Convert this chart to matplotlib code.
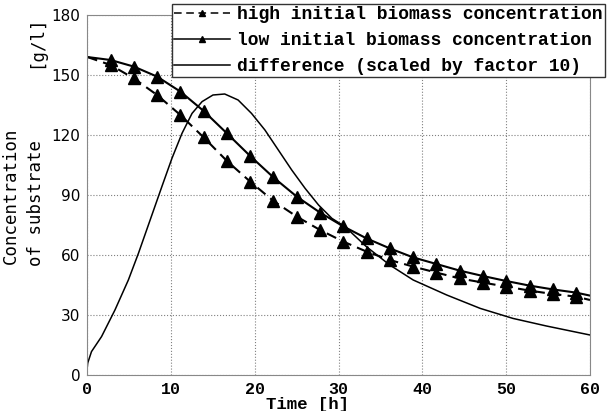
import matplotlib
matplotlib.use("Agg")
import matplotlib.pyplot as plt

# marker sample times [h]
t_markers = [0, 2.78, 5.56, 8.33, 11.11, 13.89, 16.67, 19.44, 22.22, 25.0, 27.78,
             30.56, 33.33, 36.11, 38.89, 41.67, 44.44, 47.22, 50.0, 52.78, 55.56,
             58.33, 60]

high_biomass = [159, 155, 148.3, 140, 130, 118.8, 107, 96.7, 87, 79.2, 72.5,
                66.7, 61.7, 57.5, 54.2, 51.2, 48.3, 46.2, 44.2, 42.2, 40.5,
                39.2, 37.5]

low_biomass = [159, 157.5, 154.2, 149.2, 141.7, 132, 120.8, 109.5, 98.8, 89.2, 81.2,
               74.3, 68.3, 63.3, 58.8, 55.5, 52.2, 49.5, 47, 44.7, 42.8,
               41.2, 39.7]

# difference curve (scaled by 10)
t_diff = [0, 0.05, 0.5, 1.7, 3.3, 4.9, 6.1, 7.5, 8.9, 10.1, 11.3, 12.5, 13.7, 15.0,
          16.4, 18.0, 19.6, 21.2, 22.8, 24.4, 26.0, 27.6, 29.2, 30.75, 33.3, 36.1,
          38.9, 42.9, 46.9, 50.8, 54.8, 60]
diff_scaled = [4, 6, 11.7, 19.2, 32.5, 47.5, 60.8, 77.5, 94.2, 108.3, 120.8, 130.8,
               136.7, 140, 140.5, 137.5, 130.8, 122.5, 112.5, 102.5, 93.3, 85, 78.3,
               74.2, 64.2, 55, 47.5, 40, 33.3, 28.3, 24.5, 20]

x_ticks = [0, 10, 20, 30, 40, 50, 60]
y_ticks = [0, 30, 60, 90, 120, 150, 180]

W, H = 607, 411
fig = plt.figure(figsize=(W / 100, H / 100), dpi=100)
ax = fig.add_axes([87.3 / W, 1 - 375 / H, (590 - 87.3) / W, (375 - 15) / H])

mono_bold = {"family": "Liberation Mono", "weight": "bold"}

l1, = ax.plot(t_markers, high_biomass, color="black", lw=1.5, linestyle=(0, (5, 3)),
              marker="^", ms=8, markevery=list(range(1, len(t_markers) - 1)),
              label="high initial biomass concentration")
l2, = ax.plot(t_markers, low_biomass, color="black", lw=1.5,
              marker="^", ms=8, markevery=list(range(1, len(t_markers) - 1)),
              label="low initial biomass concentration")
l3, = ax.plot(t_diff, diff_scaled, color="black", lw=1.1,
              label="difference (scaled by factor 10)")

ax.set_xlim(0, 60)
ax.set_ylim(0, 180)
ax.set_xticks(x_ticks)
ax.set_yticks(y_ticks)
ax.tick_params(length=0, pad=5)
for lab in ax.get_xticklabels():
    lab.set_fontproperties(mono_bold)
    lab.set_fontsize(12)
for lab in ax.get_yticklabels():
    lab.set_family("DejaVu Sans")
    lab.set_fontsize(11)
ax.grid(True, color="gray", linestyle=":", linewidth=0.8)
for sp in ax.spines.values():
    sp.set_color("#888888")

leg = fig.legend(handles=[l1, l2, l3], loc="upper left",
                 bbox_to_anchor=(172.3 / W, 1 - 4 / H), numpoints=1,
                 prop={"family": "Liberation Mono", "weight": "bold", "size": 13},
                 borderpad=0.12, handlelength=3.1, handletextpad=0.37,
                 labelspacing=0.5, borderaxespad=0, fancybox=False, framealpha=1)
leg.get_frame().set_edgecolor("#333333")
leg.get_frame().set_linewidth(1.0)
for h in leg.legend_handles:
    h.set_markersize(4.5)
    h.set_linewidth(1.1)

fig.text(308 / W, 1 - 404 / H, "Time [h]", ha="center", va="center",
         fontsize=12.5, **mono_bold)
fig.text(11 / W, 1 - 264 / H, "Concentration", rotation=90, ha="center", va="bottom",
         fontsize=12.5, family="DejaVu Sans Mono")
fig.text(36 / W, 1 - 266 / H, "of substrate", rotation=90, ha="center", va="bottom",
         fontsize=12.5, family="DejaVu Sans Mono")
fig.text(36 / W, 1 - 68 / H, "[g/l]", rotation=90, ha="center", va="bottom",
         fontsize=12.5, family="DejaVu Sans Mono")

fig.savefig("out.png", dpi=100)
